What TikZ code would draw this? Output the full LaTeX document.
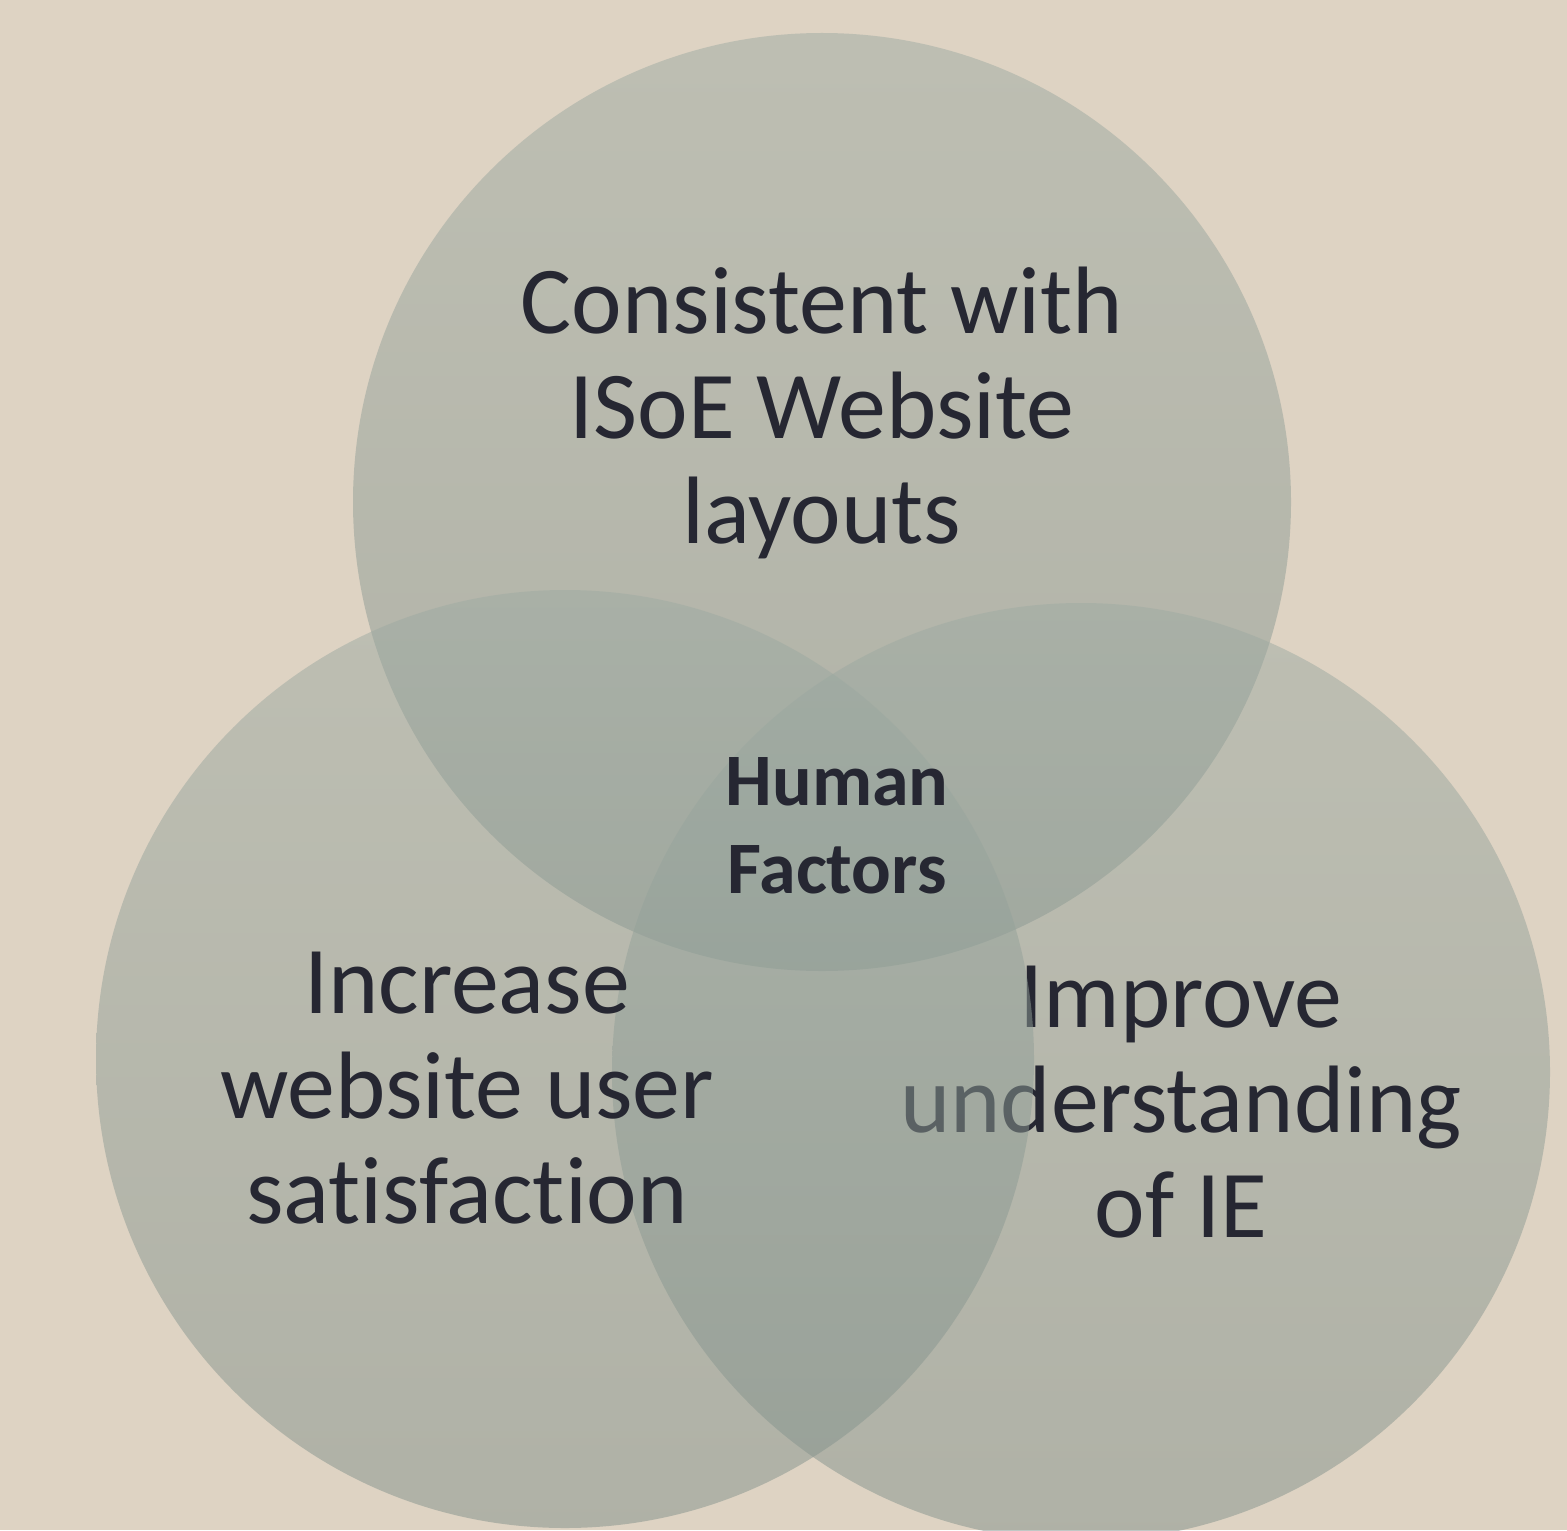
\documentclass[tikz,border=0pt]{standalone}
\usepackage{fontspec}
\setmainfont{Carlito}[Ligatures=CommonOff]
\definecolor{bg}{RGB}{222,211,195}
\definecolor{ctop}{RGB}{158,171,163}
\definecolor{cbot}{RGB}{130,145,139}
\definecolor{txt}{RGB}{38,39,50}
\tikzset{
  venn/.style={top color=ctop, bottom color=cbot, fill opacity=0.5, draw=none},
  bigtext/.style={text=txt, align=center, anchor=base, inner sep=0pt,
    font=\fontsize{47.9}{52.5}\selectfont},
  coretext/.style={text=txt, align=center, anchor=base, inner sep=0pt,
    font=\fontsize{37}{44}\selectfont\bfseries},
}
\begin{document}
\begin{tikzpicture}[x=0.5pt,y=-0.5pt]
\fill[bg] (0,0) rectangle (1567,1530);
\useasboundingbox (0,0) rectangle (1567,1530);
% top circle
\path[venn] (822,502) circle [radius=234.5pt];
\node[bigtext] (top) at (822,543) {Consistent with\\ISoE Website\\layouts};
% right circle
\path[venn] (1081,1072) circle [radius=234.5pt];
\node[bigtext] (right) at (1181,1237) {Improve\\understanding\\of IE};
% left circle
\path[venn] (565,1059) circle [radius=234.5pt];
\node[bigtext] (left) at (467,1223) {Increase\\website user\\satisfaction};
% centre
\node[coretext] (core) at (837,893) {Human\\Factors};
\end{tikzpicture}
\end{document}
